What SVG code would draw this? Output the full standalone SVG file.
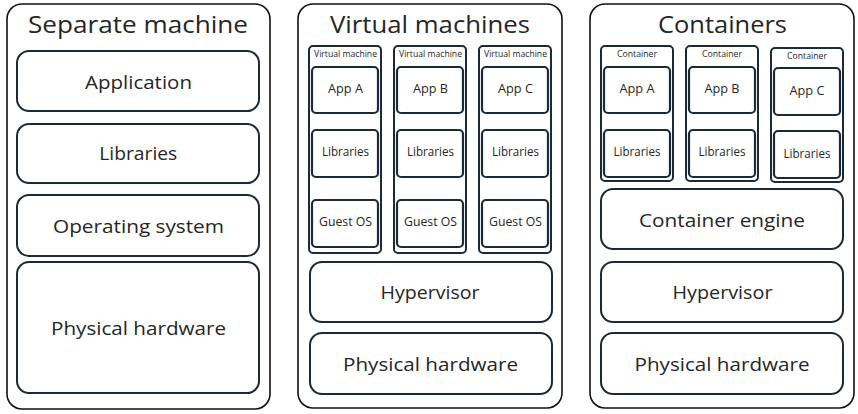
<svg xmlns="http://www.w3.org/2000/svg" width="858" height="414" viewBox="0 0 858 414">
<style>
  text { font-family: "Open Sans", "Noto Sans", "Liberation Sans", sans-serif; font-weight: 400; fill: #262626; text-anchor: middle; }
  .outer { fill: #fff; stroke: #111; stroke-width: 1.6; }
  .layer { fill: #fff; stroke: #1c2a38; stroke-width: 2; }
  .col { fill: #fff; stroke: #1c2a38; stroke-width: 2; }
  .box { fill: #fff; stroke: #1c2a38; stroke-width: 2.2; }
  .title { font-size: 23px; }
  .big { font-size: 19px; }
  .small { font-size: 12px; }
  .tiny { font-size: 8.4px; }
</style>
<rect width="858" height="414" fill="#fff"/>

<g id="separate-machine">
  <rect class="outer" x="7" y="4" width="263" height="405" rx="15"/>
  <text class="title" x="138" y="33.3" textLength="220" lengthAdjust="spacingAndGlyphs">Separate machine</text>
  <g id="sm-application"><rect class="layer" x="17" y="51" width="242" height="60" rx="12"/><text class="big" x="138.5" y="89" textLength="107" lengthAdjust="spacingAndGlyphs">Application</text></g>
  <g id="sm-libraries"><rect class="layer" x="17" y="124" width="242" height="59" rx="12"/><text class="big" x="138.3" y="160" textLength="78" lengthAdjust="spacingAndGlyphs">Libraries</text></g>
  <g id="sm-os"><rect class="layer" x="17" y="195" width="242" height="61" rx="12"/><text class="big" x="138.5" y="233" textLength="171" lengthAdjust="spacingAndGlyphs">Operating system</text></g>
  <g id="sm-hardware"><rect class="layer" x="17" y="262" width="242" height="131" rx="12"/><text class="big" x="138.5" y="335" textLength="175" lengthAdjust="spacingAndGlyphs">Physical hardware</text></g>
</g>

<g id="virtual-machines">
  <rect class="outer" x="298" y="4" width="264" height="404" rx="15"/>
  <text class="title" x="430" y="33.3" textLength="200" lengthAdjust="spacingAndGlyphs">Virtual machines</text>
  <g id="vm1">
    <rect class="col" x="309" y="46" width="72" height="207" rx="4"/>
    <text class="tiny" x="345.5" y="57" textLength="63" lengthAdjust="spacingAndGlyphs">Virtual machine</text>
    <rect class="box" x="312" y="67" width="66" height="46" rx="4" stroke="#111"/><text class="small" x="345.5" y="93.3" textLength="35" lengthAdjust="spacingAndGlyphs">App A</text>
    <rect class="box" x="312" y="130" width="66" height="47" rx="4"/><text class="small" x="345.5" y="156" textLength="47" lengthAdjust="spacingAndGlyphs">Libraries</text>
    <rect class="box" x="312" y="200" width="66" height="47" rx="4"/><text class="small" x="345.5" y="226" textLength="53" lengthAdjust="spacingAndGlyphs">Guest OS</text>
  </g>
  <g id="vm2">
    <rect class="col" x="394" y="46" width="72" height="207" rx="4"/>
    <text class="tiny" x="430.5" y="57" textLength="63" lengthAdjust="spacingAndGlyphs">Virtual machine</text>
    <rect class="box" x="397" y="67" width="66" height="46" rx="4"/><text class="small" x="430.5" y="93.3" textLength="35" lengthAdjust="spacingAndGlyphs">App B</text>
    <rect class="box" x="397" y="130" width="66" height="47" rx="4"/><text class="small" x="430.5" y="156" textLength="47" lengthAdjust="spacingAndGlyphs">Libraries</text>
    <rect class="box" x="397" y="200" width="66" height="47" rx="4"/><text class="small" x="430.5" y="226" textLength="53" lengthAdjust="spacingAndGlyphs">Guest OS</text>
  </g>
  <g id="vm3">
    <rect class="col" x="479" y="46" width="72" height="207" rx="4"/>
    <text class="tiny" x="515.5" y="57" textLength="63" lengthAdjust="spacingAndGlyphs">Virtual machine</text>
    <rect class="box" x="482" y="67" width="66" height="46" rx="4"/><text class="small" x="515.5" y="93.3" textLength="35" lengthAdjust="spacingAndGlyphs">App C</text>
    <rect class="box" x="482" y="130" width="66" height="47" rx="4"/><text class="small" x="515.5" y="156" textLength="47" lengthAdjust="spacingAndGlyphs">Libraries</text>
    <rect class="box" x="482" y="200" width="66" height="47" rx="4"/><text class="small" x="515.5" y="226" textLength="53" lengthAdjust="spacingAndGlyphs">Guest OS</text>
  </g>
  <g id="vm-hypervisor"><rect class="layer" x="310" y="262" width="242" height="60" rx="12"/><text class="big" x="430" y="299" textLength="99" lengthAdjust="spacingAndGlyphs">Hypervisor</text></g>
  <g id="vm-hardware"><rect class="layer" x="310" y="333" width="242" height="61" rx="12"/><text class="big" x="430.5" y="370.6" textLength="175" lengthAdjust="spacingAndGlyphs">Physical hardware</text></g>
</g>

<g id="containers">
  <rect class="outer" x="590" y="4" width="264" height="404" rx="15"/>
  <text class="title" x="722.5" y="33.3" textLength="129" lengthAdjust="spacingAndGlyphs">Containers</text>
  <g id="c1">
    <rect class="col" x="601" y="46" width="72" height="135" rx="4"/>
    <text class="tiny" x="637" y="57" textLength="40" lengthAdjust="spacingAndGlyphs">Container</text>
    <rect class="box" x="604" y="67" width="66" height="46" rx="4"/><text class="small" x="637" y="93.3" textLength="35" lengthAdjust="spacingAndGlyphs">App A</text>
    <rect class="box" x="604" y="130" width="66" height="47" rx="4"/><text class="small" x="637" y="156" textLength="47" lengthAdjust="spacingAndGlyphs">Libraries</text>
  </g>
  <g id="c2">
    <rect class="col" x="686" y="46" width="72" height="135" rx="4"/>
    <text class="tiny" x="722" y="57" textLength="40" lengthAdjust="spacingAndGlyphs">Container</text>
    <rect class="box" x="689" y="67" width="66" height="46" rx="4"/><text class="small" x="722" y="93.3" textLength="35" lengthAdjust="spacingAndGlyphs">App B</text>
    <rect class="box" x="689" y="130" width="66" height="47" rx="4"/><text class="small" x="722" y="156" textLength="47" lengthAdjust="spacingAndGlyphs">Libraries</text>
  </g>
  <g id="c3">
    <rect class="col" x="771" y="48" width="72" height="134" rx="4"/>
    <text class="tiny" x="807" y="59" textLength="40" lengthAdjust="spacingAndGlyphs">Container</text>
    <rect class="box" x="774" y="68" width="66" height="47" rx="4"/><text class="small" x="807" y="95" textLength="35" lengthAdjust="spacingAndGlyphs">App C</text>
    <rect class="box" x="774" y="131" width="66" height="47" rx="4"/><text class="small" x="807" y="157.5" textLength="47" lengthAdjust="spacingAndGlyphs">Libraries</text>
  </g>
  <g id="c-engine"><rect class="layer" x="601" y="189" width="242" height="60" rx="12"/><text class="big" x="722" y="227" textLength="166" lengthAdjust="spacingAndGlyphs">Container engine</text></g>
  <g id="c-hypervisor"><rect class="layer" x="601" y="262" width="242" height="60" rx="12"/><text class="big" x="722.5" y="298.5" textLength="100" lengthAdjust="spacingAndGlyphs">Hypervisor</text></g>
  <g id="c-hardware"><rect class="layer" x="601" y="333" width="242" height="61" rx="12"/><text class="big" x="722" y="370.6" textLength="175" lengthAdjust="spacingAndGlyphs">Physical hardware</text></g>
</g>

<g id="connectors"></g>
</svg>
